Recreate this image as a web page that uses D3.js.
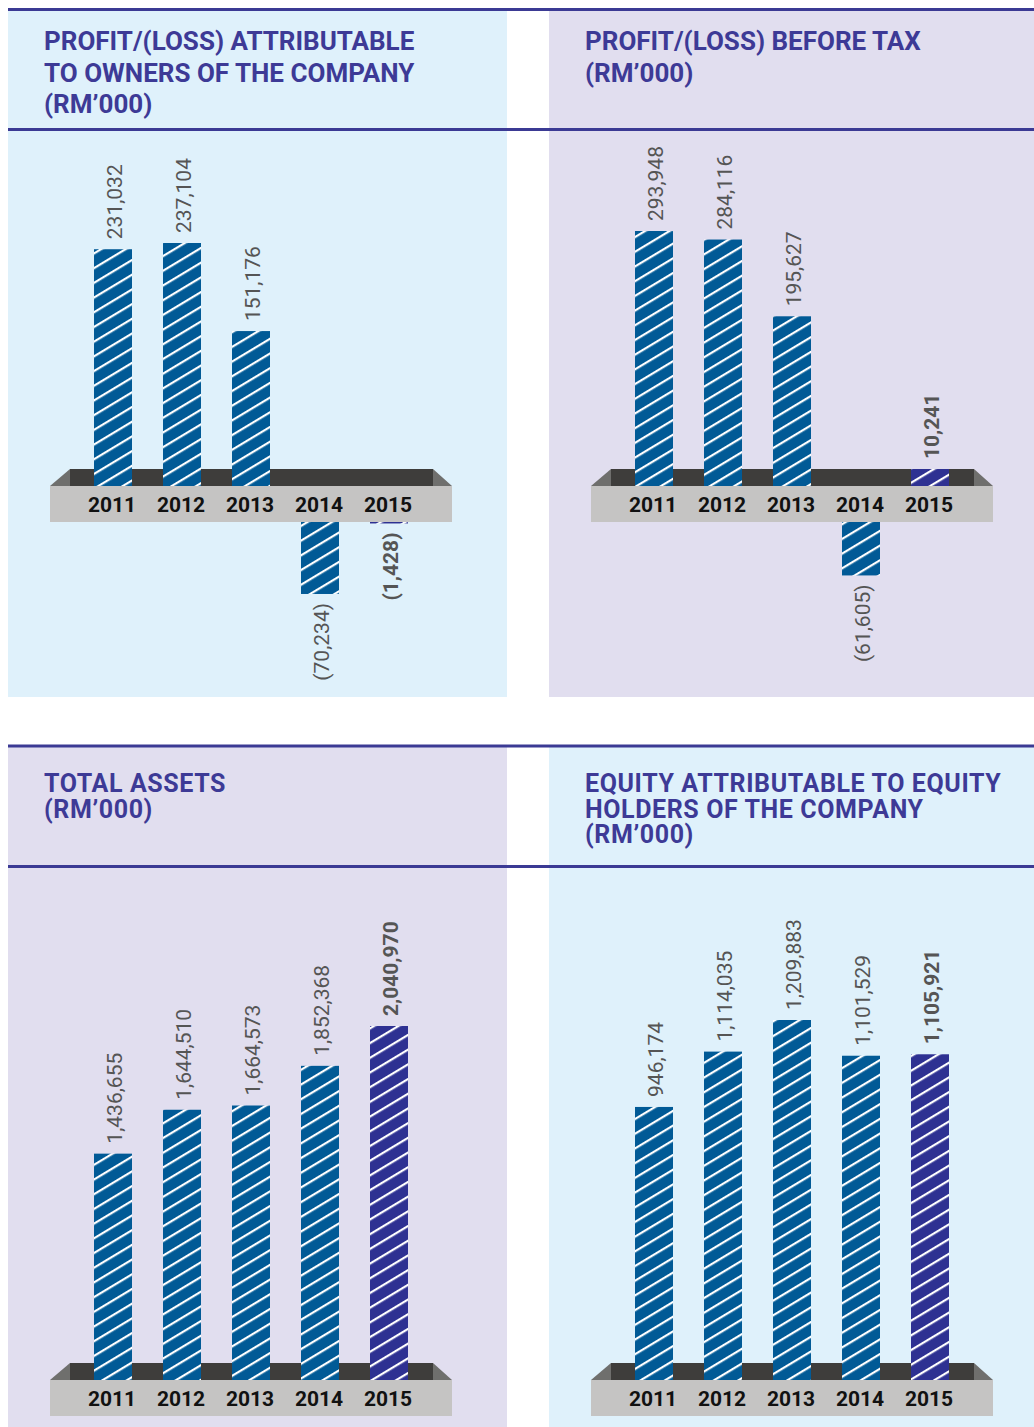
<!DOCTYPE html>
<html>
<head>
<meta charset="utf-8">
<script src="https://cdn.jsdelivr.net/npm/d3@7"></script>
<style>
  body { margin: 0; background: #fff; }
  text { font-family: Roboto, "DejaVu Sans", sans-serif; }
</style>
</head>
<body>
<div id="main"></div>
<script>
// Datos de los cuatro gráficos (RM'000)
var years = ["2011", "2012", "2013", "2014", "2015"];
var profitOwners = [231032, 237104, 151176, -70234, -1428];
var profitBeforeTax = [293948, 284116, 195627, -61605, 10241];
var totalAssets = [1436655, 1644510, 1664573, 1852368, 2040970];
var equityHolders = [946174, 1114035, 1209883, 1101529, 1105921];

var titleOwners = ["PROFIT/(LOSS) ATTRIBUTABLE", "TO OWNERS OF THE COMPANY", "(RM\u2019000)"];
var titleBeforeTax = ["PROFIT/(LOSS) BEFORE TAX", "(RM\u2019000)"];
var titleAssets = ["TOTAL ASSETS", "(RM\u2019000)"];
var titleEquity = ["EQUITY ATTRIBUTABLE TO EQUITY", "HOLDERS OF THE COMPANY", "(RM\u2019000)"];

// Colores
var lightBlue = "#dff1fb";
var lavender = "#e1deef";
var titleColor = "#3d3a96";
var barBlue = "#015a96";
var barPurple = "#2e3192";

var svg = d3.select("#main").append("svg")
  .attr("width", 1034)
  .attr("height", 1427);

// Patrones de rayas diagonales
var defs = svg.append("defs");
[["hatchBlue", barBlue], ["hatchPurple", barPurple]].forEach(function(p) {
  var pat = defs.append("pattern")
    .attr("id", p[0])
    .attr("patternUnits", "userSpaceOnUse")
    .attr("width", 12)
    .attr("height", 12.6)
    .attr("patternTransform", "rotate(-31)");
  pat.append("rect").attr("width", 12).attr("height", 12.6).attr("fill", p[1]);
  pat.append("rect").attr("y", 0).attr("width", 12).attr("height", 2.2).attr("fill", "#fff");
});

// Formato de los valores: negativos entre paréntesis
var fmt = d3.format(",");
function label(v) {
  return v < 0 ? "(" + fmt(-v) + ")" : fmt(v);
}

/**
* Dibuja un panel completo: fondo, título, plataforma, barras y etiquetas
**/
function drawPanel(cfg) {
  var ox = cfg.ox;
  var panelX = cfg.left ? 8 : 549;
  var panelW = cfg.left ? 499 : 485;

  // Fondo del panel
  svg.append("rect")
    .attr("x", panelX).attr("y", cfg.top)
    .attr("width", panelW).attr("height", cfg.bottom - cfg.top)
    .attr("fill", cfg.bg);

  // Título
  var t = svg.append("g");
  cfg.title.forEach(function(line, i) {
    t.append("text")
      .attr("x", panelX + 36)
      .attr("y", cfg.titleY + i * cfg.leading)
      .attr("fill", titleColor)
      .attr("font-size", cfg.titleSize)
      .attr("font-weight", 700)
      .attr("letter-spacing", cfg.spacing)
      .text(line);
  });

  var x = d3.scaleBand()
    .domain(years)
    .range([ox + 94, ox + 408])
    .paddingInner(31 / 69)
    .paddingOuter(0);

  var h = d3.scaleLinear().domain(cfg.domain).range([0, cfg.height]);

  var gy = cfg.platform;

  // Banda oscura detrás de las barras
  svg.append("rect")
    .attr("x", ox + 70).attr("y", gy - 17)
    .attr("width", 363).attr("height", 17)
    .attr("fill", "#3e3d3b");
  svg.append("path")
    .attr("d", "M" + (ox + 50) + "," + gy + "L" + (ox + 70) + "," + (gy - 17) + "L" + (ox + 70) + "," + gy + "Z")
    .attr("fill", "#6f6f6d");
  svg.append("path")
    .attr("d", "M" + (ox + 433) + "," + (gy - 17) + "L" + (ox + 452) + "," + gy + "L" + (ox + 433) + "," + gy + "Z")
    .attr("fill", "#6f6f6d");

  // Barras
  cfg.values.forEach(function(v, i) {
    var bh = h(Math.abs(v));
    var last = i === years.length - 1;
    var fill = last ? "url(#hatchPurple)" : "url(#hatchBlue)";
    var cx = x(years[i]) + x.bandwidth() / 2;
    var by, ly, anchor;
    if (v >= 0) {
      bh = Math.max(bh, 17);
      by = gy - bh;
      ly = by - 10;
      anchor = "start";
    } else {
      by = gy + 36;
      ly = by + bh + 9;
      anchor = "end";
    }
    svg.append("rect")
      .attr("x", x(years[i])).attr("y", by)
      .attr("width", x.bandwidth()).attr("height", bh)
      .attr("fill", fill);
    svg.append("text")
      .attr("transform", "translate(" + (cx + 1) + "," + ly + ") rotate(-90)")
      .attr("text-anchor", anchor)
      .attr("dy", "0.36em")
      .attr("font-size", 21)
      .attr("font-weight", last ? 700 : 400)
      .attr("fill", "#555")
      .text(label(v));
  });

  // Plataforma gris con los años
  svg.append("rect")
    .attr("x", ox + 50).attr("y", gy)
    .attr("width", 402).attr("height", 36)
    .attr("fill", "#c5c4c3");
  years.forEach(function(yr) {
    svg.append("text")
      .attr("x", x(yr) + x.bandwidth() / 2 - 1)
      .attr("y", gy + 26)
      .attr("text-anchor", "middle")
      .attr("font-size", 21)
      .attr("font-weight", 700)
      .attr("fill", "#111")
      .text(yr);
  });
}

function drawRules(top, header) {
  [top, header].forEach(function(y) {
    svg.append("line")
      .attr("x1", 8).attr("x2", 1034)
      .attr("y1", y).attr("y2", y)
      .attr("stroke", "#3b3a94")
      .attr("stroke-width", 3);
  });
}

drawPanel({ left: true, ox: 0, top: 9, bottom: 697, bg: lightBlue, title: titleOwners,
  titleY: 50, leading: 31.6, titleSize: 26, spacing: 0,
  platform: 486, values: profitOwners, domain: [0, 237104], height: 243 });
drawPanel({ left: false, ox: 541, top: 9, bottom: 697, bg: lavender, title: titleBeforeTax,
  titleY: 50, leading: 31.6, titleSize: 26, spacing: 0,
  platform: 486, values: profitBeforeTax, domain: [0, 293948], height: 255 });
drawPanel({ left: true, ox: 0, top: 745, bottom: 1427, bg: lavender, title: titleAssets,
  titleY: 792, leading: 25.6, titleSize: 25, spacing: 0.6,
  platform: 1380, values: totalAssets, domain: [365000, 2040970], height: 354 });
drawPanel({ left: false, ox: 541, top: 745, bottom: 1427, bg: lightBlue, title: titleEquity,
  titleY: 792, leading: 25.6, titleSize: 25, spacing: 0.6,
  platform: 1380, values: equityHolders, domain: [118000, 1209883], height: 360 });

drawRules(9.5, 129.5);
drawRules(746, 866.5);
</script>
</body>
</html>
